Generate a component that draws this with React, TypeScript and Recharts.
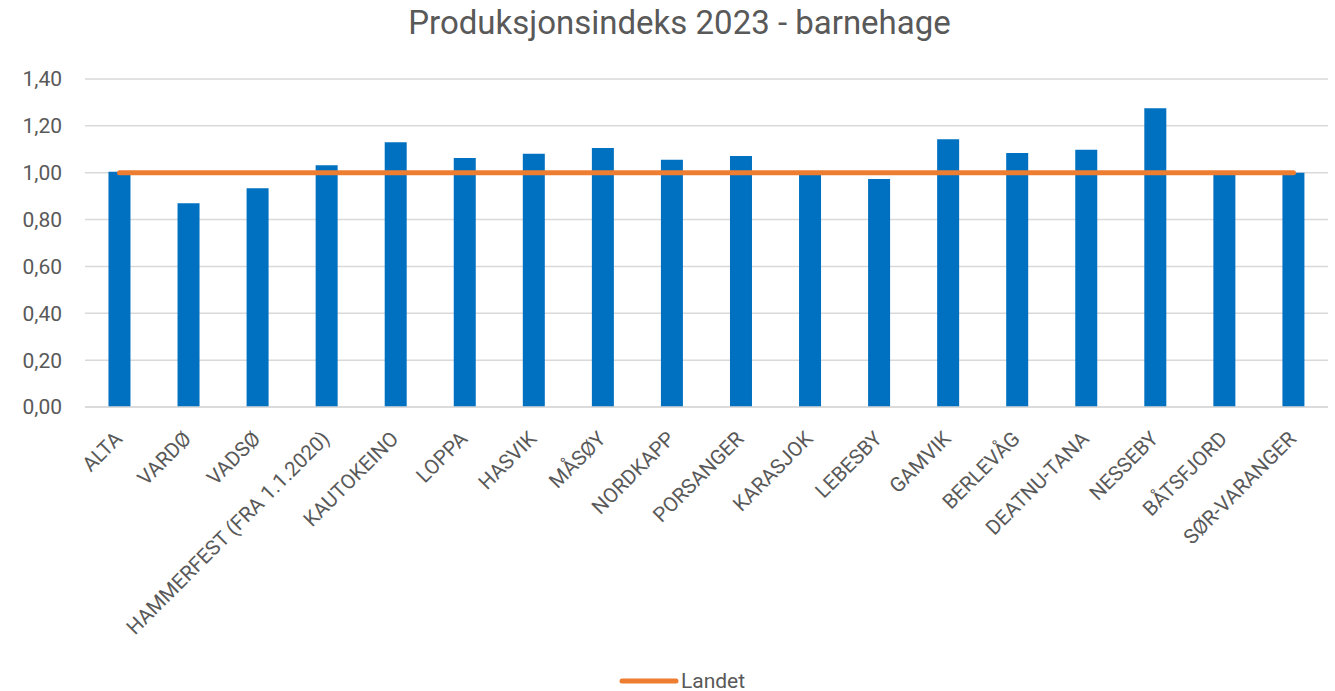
import React from "react";
import { ComposedChart, Bar, Line, XAxis, YAxis, CartesianGrid, Legend } from "recharts";

const categories = [
  "ALTA", "VARDØ", "VADSØ", "HAMMERFEST (FRA 1.1.2020)", "KAUTOKEINO", "LOPPA", "HASVIK", "MÅSØY",
  "NORDKAPP", "PORSANGER", "KARASJOK", "LEBESBY", "GAMVIK", "BERLEVÅG", "DEATNU-TANA", "NESSEBY",
  "BÅTSFJORD", "SØR-VARANGER",
];
const indeks = [1.004, 0.87, 0.934, 1.032, 1.13, 1.063, 1.081, 1.105, 1.055, 1.071, 0.995, 0.973, 1.143, 1.084, 1.098, 1.275, 0.99, 1.0];
const landet = [1, 1, 1, 1, 1, 1, 1, 1, 1, 1, 1, 1, 1, 1, 1, 1, 1, 1];
const yTicks = [0, 0.2, 0.4, 0.6, 0.8, 1.0, 1.2, 1.4];

const data = categories.map((name, i) => ({ name, indeks: indeks[i], landet: landet[i] }));

const FONT = "Roboto, 'Noto Sans', sans-serif";
const TEXT = "#595959";

const XTick = (props: any) => {
  const { x, y, payload } = props;
  return (
    <g transform={`translate(${x + 4},${y + 33}) rotate(-45)`}>
      <text x={0} y={0} textAnchor="end" fill={TEXT} fontSize={20.5} fontFamily={FONT}>
        {payload.value}
      </text>
    </g>
  );
};

const LegendContent = () => (
  <div
    style={{
      display: "flex",
      justifyContent: "center",
      alignItems: "center",
      fontFamily: FONT,
      paddingLeft: 36,
      marginTop: 8,
    }}
  >
    <svg width={60} height={10} style={{ marginRight: 2 }}>
      <line x1={3} y1={5} x2={57} y2={5} stroke="#ED7D31" strokeWidth={5} strokeLinecap="round" />
    </svg>
    <span style={{ color: TEXT, fontSize: 21 }}>Landet</span>
  </div>
);

export default function App() {
  return (
    <div style={{ position: "absolute", left: 0, top: 0, width: 1335, height: 691, background: "#fff" }}>
      <div
        style={{
          position: "absolute",
          left: 24,
          top: 3,
          width: 1311,
          textAlign: "center",
          fontFamily: FONT,
          fontSize: 33,
          color: TEXT,
        }}
      >
        Produksjonsindeks 2023 - barnehage
      </div>
      <ComposedChart
        width={1335}
        height={691}
        data={data}
        margin={{ top: 79, right: 7, bottom: 0, left: 0 }}
        barCategoryGap="34%"
      >
        <CartesianGrid horizontal vertical={false} stroke="#d9d9d9" strokeWidth={1.5} />
        <XAxis
          dataKey="name"
          interval={0}
          height={254}
          tick={<XTick />}
          tickLine={false}
          tickSize={0}
          tickMargin={0}
          axisLine={{ stroke: "#d9d9d9", strokeWidth: 1.5 }}
        />
        <YAxis
          domain={[0, 1.4]}
          ticks={yTicks}
          width={85}
          tickLine={false}
          axisLine={false}
          tickMargin={17}
          tickFormatter={(v: number) => v.toFixed(2).replace(".", ",")}
          tick={{ fill: TEXT, fontSize: 21, fontFamily: FONT }}
        />
        <Bar dataKey="indeks" fill="#0070C0" isAnimationActive={false} />
        <Line
          dataKey="landet"
          stroke="#ED7D31"
          strokeWidth={5}
          strokeLinecap="round"
          dot={false}
          isAnimationActive={false}
        />
        <Legend verticalAlign="bottom" height={30} content={<LegendContent />} />
      </ComposedChart>
    </div>
  );
}
